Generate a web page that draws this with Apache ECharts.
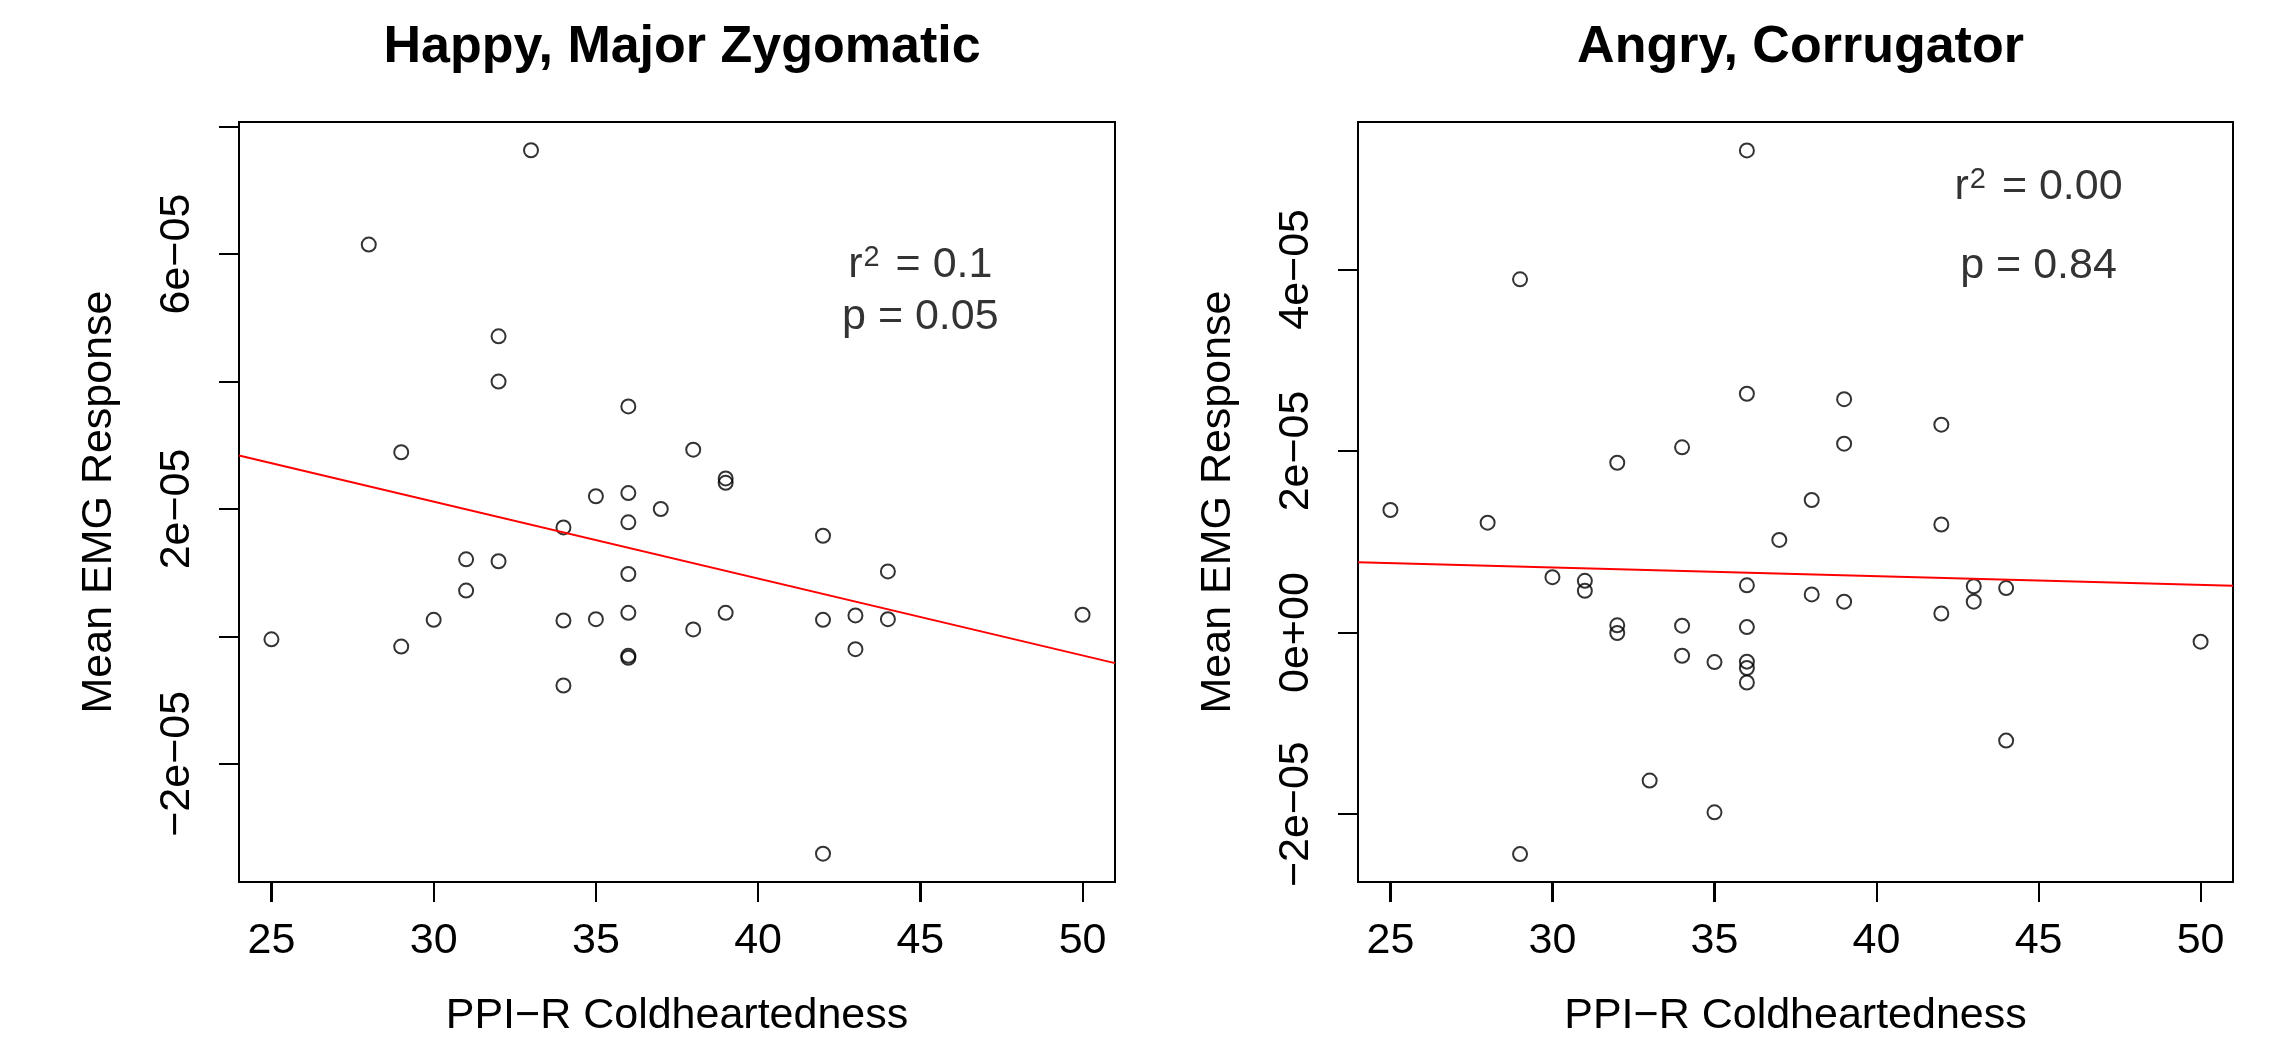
<!DOCTYPE html>
<html><head><meta charset="utf-8">
<script src="https://cdn.jsdelivr.net/npm/echarts@6/dist/echarts.min.js"></script>
<style>html,body{margin:0;padding:0;background:#fff}#c{width:2277px;height:1045px}</style>
</head><body><div id="c"></div>
<script>
// ---- data ----
const titles = ['Happy, Major Zygomatic', 'Angry, Corrugator'];
const xTitle = 'PPI\u2212R Coldheartedness';
const yTitle = 'Mean EMG Response';
const xTicks = [25, 30, 35, 40, 45, 50];
const xRange = [24, 51];

const happyX = [33, 28, 32, 32, 36, 29, 38, 39, 39, 35, 36, 37, 34, 36, 42, 31, 32, 44, 36, 31,
                30, 34, 35, 36, 39, 38, 42, 43, 44, 50, 25, 29, 43, 36, 36, 34, 42];
const happyY = [7.63e-5, 6.15e-5, 4.71e-5, 4.00e-5, 3.61e-5, 2.89e-5, 2.93e-5, 2.48e-5, 2.41e-5, 2.20e-5,
                2.25e-5, 2.00e-5, 1.71e-5, 1.79e-5, 1.58e-5, 1.21e-5, 1.18e-5, 1.02e-5, 9.8e-6, 7.2e-6,
                2.6e-6, 2.5e-6, 2.7e-6, 3.7e-6, 3.7e-6, 1.1e-6, 2.6e-6, 3.3e-6, 2.7e-6, 3.4e-6,
                -4.6e-7, -1.6e-6, -2.0e-6, -3.05e-6, -3.35e-6, -7.7e-6, -3.41e-5];
const angryX = [36, 29, 36, 39, 42, 39, 34, 32, 38, 25, 28, 42, 37, 30, 31, 31, 36, 43, 44, 38,
                39, 43, 42, 32, 32, 34, 36, 50, 34, 35, 36, 36, 36, 44, 33, 35, 29];
const angryY = [5.31e-5, 3.89e-5, 2.63e-5, 2.57e-5, 2.29e-5, 2.08e-5, 2.04e-5, 1.87e-5, 1.46e-5, 1.35e-5,
                1.21e-5, 1.19e-5, 1.02e-5, 6.1e-6, 5.7e-6, 4.6e-6, 5.2e-6, 5.1e-6, 4.9e-6, 4.2e-6,
                3.4e-6, 3.4e-6, 2.1e-6, 8e-7, -5e-8, 7.6e-7, 6e-7, -1.0e-6, -2.55e-6, -3.25e-6,
                -3.2e-6, -3.9e-6, -5.5e-6, -1.19e-5, -1.63e-5, -1.98e-5, -2.44e-5];

const happyFitX = [24, 51];
const happyFitY = [2.84e-5, -4.19e-6];
const angryFitX = [24, 51];
const angryFitY = [7.74e-6, 5.15e-6];

const happyYRange = [-3.854e-5, 8.073e-5];
const angryYRange = [-2.747e-5, 5.623e-5];
const happyYTicks = [-2e-5, 0, 2e-5, 4e-5, 6e-5, 8e-5];
const happyYLabelValues = [-2e-5, 2e-5, 6e-5];
const happyYLabels = ['\u22122e\u221205', '2e\u221205', '6e\u221205'];
const angryYTicks = [-2e-5, 0, 2e-5, 4e-5];
const angryYLabelValues = [-2e-5, 0, 2e-5, 4e-5];
const angryYLabels = ['\u22122e\u221205', '0e+00', '2e\u221205', '4e\u221205'];

const happyNoteX = [45, 45];
const happyNoteY = [5.83e-5, 5.01e-5];
const happyNoteR2 = '0.1';
const happyNoteP = '0.05';
const angryNoteX = [45, 45];
const angryNoteY = [4.91e-5, 4.04e-5];
const angryNoteR2 = '0.00';
const angryNoteP = '0.84';

// ---- chart ----
const FONT = '"Liberation Sans", Arial, Helvetica, sans-serif';
const FS = 43;
const TICK_LEN = 20;
const grids = [
  {left: 239, top: 122, width: 876, height: 760},
  {left: 1358, top: 122, width: 875, height: 760}
];
const yRanges = [happyYRange, angryYRange];
function lookup(vals, labels) {
  return function (v) {
    for (let i = 0; i < vals.length; i++) if (Math.abs(v - vals[i]) < 1e-12) return labels[i];
    return '';
  };
}
function xAxis(i) {
  return {
    type: 'value', gridIndex: i, min: xRange[0], max: xRange[1], position: 'bottom',
    name: xTitle, nameLocation: 'middle', nameGap: 113,
    nameTextStyle: {fontFamily: FONT, fontSize: FS, color: '#000', lineHeight: FS},
    axisLine: {show: true, onZero: false, lineStyle: {color: '#000', width: 2}},
    axisTick: {show: true, inside: false, length: TICK_LEN, customValues: xTicks, lineStyle: {color: '#000', width: 2}},
    axisLabel: {show: true, customValues: xTicks, margin: 38, fontFamily: FONT, fontSize: FS, color: '#000', lineHeight: FS},
    splitLine: {show: false}
  };
}
function yAxis(i, range, ticks, lv, lb) {
  return {
    type: 'value', gridIndex: i, min: range[0], max: range[1], position: 'left',
    name: yTitle, nameLocation: 'middle', nameGap: 118, nameRotate: 90,
    nameTextStyle: {fontFamily: FONT, fontSize: FS, color: '#000', lineHeight: FS},
    axisLine: {show: true, onZero: false, lineStyle: {color: '#000', width: 2}},
    axisTick: {show: true, inside: false, length: TICK_LEN, customValues: ticks, lineStyle: {color: '#000', width: 2}},
    axisLabel: {show: true, customValues: lv, rotate: 90, margin: 40, fontFamily: FONT, fontSize: FS, color: '#000',
                lineHeight: FS, formatter: lookup(lv, lb)},
    splitLine: {show: false}
  };
}
function pts(xs, ys) { return xs.map((x, i) => [x, ys[i]]); }
function scatter(i, xs, ys) {
  return {
    type: 'scatter', xAxisIndex: i, yAxisIndex: i, data: pts(xs, ys),
    symbol: 'circle', symbolSize: 14,
    itemStyle: {color: 'rgba(0,0,0,0)', borderColor: '#000', borderWidth: 2},
    emphasis: {disabled: true}, silent: true
  };
}
function fit(i, xs, ys) {
  return {
    type: 'line', xAxisIndex: i, yAxisIndex: i, data: pts(xs, ys),
    showSymbol: false, lineStyle: {color: '#ff0000', width: 2}, silent: true
  };
}
function notes(i, xs, ys, r2, p) {
  const texts = ['{m|r}{s|2}{m| = ' + r2 + '}', '{m|p = ' + p + '}'];
  return {
    type: 'scatter', xAxisIndex: i, yAxisIndex: i, symbolSize: 0, silent: true,
    data: xs.map((x, k) => ({value: [x, ys[k]], label: {formatter: texts[k]}})),
    label: {
      show: true, position: 'inside',
      rich: {
        m: {fontFamily: FONT, fontSize: FS, color: '#000', lineHeight: FS},
        s: {fontFamily: FONT, fontSize: 29, color: '#000', verticalAlign: 'top', lineHeight: FS, padding: [0, 4, 0, 1]}
      }
    }
  };
}
const chart = echarts.init(document.getElementById('c'));
chart.setOption({
  animation: false,
  backgroundColor: '#fff',
  title: titles.map((t, i) => ({
    text: t, left: grids[i].left + grids[i].width / 2, top: 17, textAlign: 'center',
    textStyle: {fontFamily: FONT, fontSize: 52, fontWeight: 'bold', color: '#000'}
  })),
  grid: grids.map(g => Object.assign({show: true, borderColor: '#000', borderWidth: 2, backgroundColor: 'transparent'}, g)),
  xAxis: [xAxis(0), xAxis(1)],
  yAxis: [
    yAxis(0, happyYRange, happyYTicks, happyYLabelValues, happyYLabels),
    yAxis(1, angryYRange, angryYTicks, angryYLabelValues, angryYLabels)
  ],
  series: [
    fit(0, happyFitX, happyFitY), scatter(0, happyX, happyY), notes(0, happyNoteX, happyNoteY, happyNoteR2, happyNoteP),
    fit(1, angryFitX, angryFitY), scatter(1, angryX, angryY), notes(1, angryNoteX, angryNoteY, angryNoteR2, angryNoteP)
  ]
});
// x tick marks placed through the library's own axis scales (overlap the axis ticks exactly)
const tickMarks = [];
[0, 1].forEach(i => {
  const yBottom = chart.convertToPixel({yAxisIndex: i}, yRanges[i][0]);
  xTicks.forEach(v => {
    const px = Math.round(chart.convertToPixel({xAxisIndex: i}, v));
    tickMarks.push({
      type: 'line', silent: true, z: 10,
      shape: {x1: px, y1: yBottom, x2: px, y2: yBottom + TICK_LEN},
      style: {stroke: '#000', lineWidth: 2}
    });
  });
});
chart.setOption({graphic: tickMarks});
</script></body></html>
